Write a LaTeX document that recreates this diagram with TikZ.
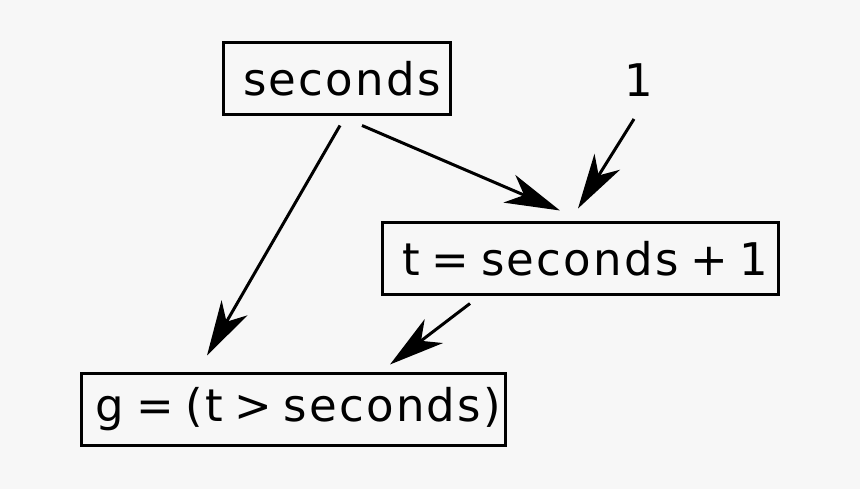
\documentclass[tikz,border=0pt]{standalone}
\usepackage{fontspec}
\setmainfont{DejaVu Sans}[LetterSpace=5.0, WordSpace=0.7]
\usetikzlibrary{arrows.meta,calc}
\definecolor{bg}{HTML}{F7F7F7}
\begin{document}
\begin{tikzpicture}[x=1pt,y=-1pt,
  box/.style={draw=black, line width=3pt, minimum height=72pt, inner sep=0pt,
    font=\fontsize{45}{54}\selectfont, execute at begin node=\hspace*{11pt}},
  arr/.style={-{Stealth[length=55pt,width=30pt,inset=16pt]}, line width=3pt},
  lbl/.style={font=\fontsize{45}{54}\selectfont, inner sep=0pt}]
\fill[bg] (0,0) rectangle (860,489);
\useasboundingbox (0,0) rectangle (860,489);
\node[box, minimum width=227pt] (sec) at (336.5,79) {seconds};
\node[box, minimum width=396pt] (t) at (580,259) {t = seconds + 1};
\node[box, minimum width=424pt] (g) at (293,409.5) {g = (t > seconds)};
\node[lbl, anchor=base] (one) at (639,97) {1};
\draw[arr] ($(sec.south)+(25.5,9)$) -- ($(t.north)+(-20,-11)$);
\draw[arr] ($(one.base)+(-5,22)$) -- ($(t.north)+(-2,-13)$);
\draw[arr] ($(sec.south)+(3.5,9)$) -- ($(g.north)+(-86,-16.5)$);
\draw[arr] ($(t.south)+(-110,7)$) -- ($(g.north)+(97,-7.5)$);
\end{tikzpicture}
\end{document}
